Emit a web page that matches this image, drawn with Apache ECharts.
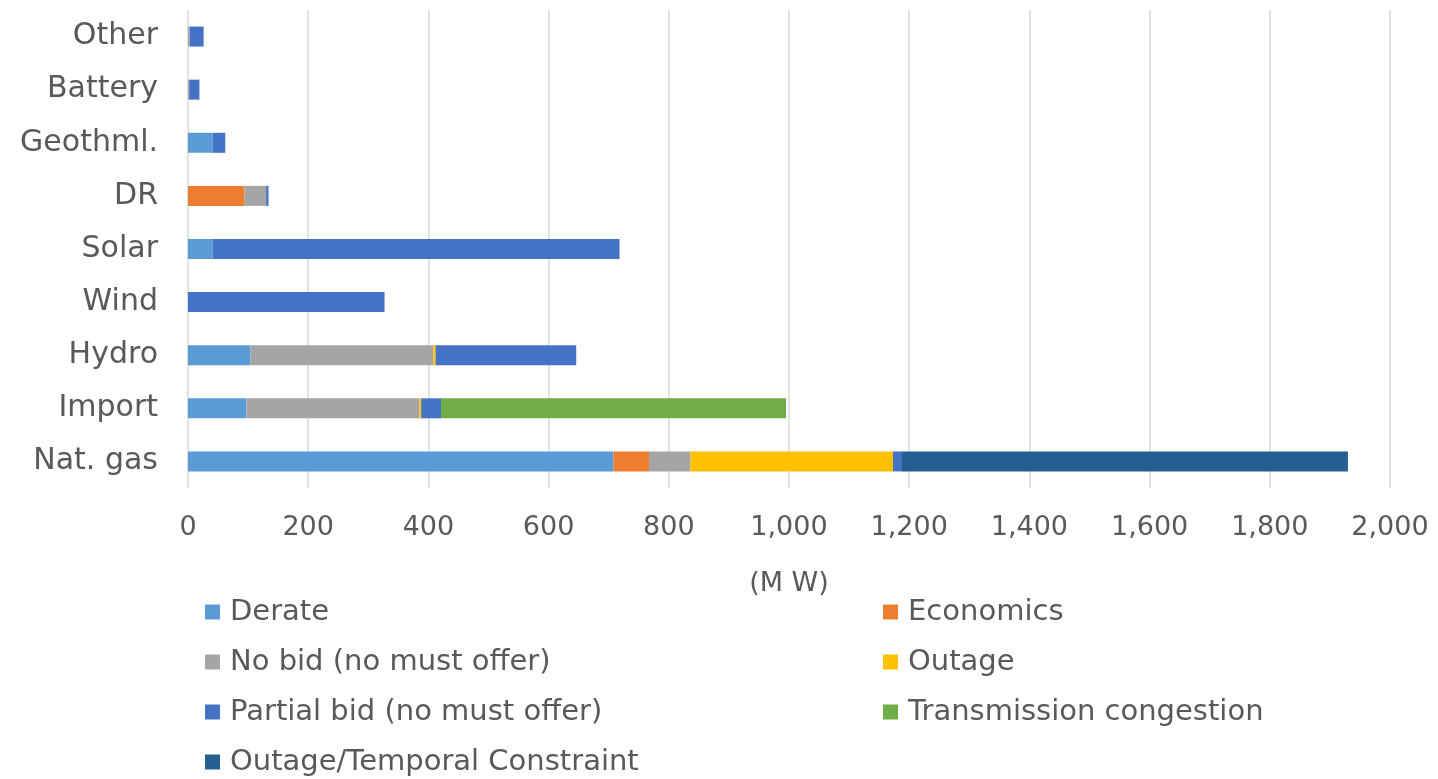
<!DOCTYPE html>
<html>
<head>
<meta charset="utf-8">
<script src="https://cdn.jsdelivr.net/npm/echarts@6/dist/echarts.min.js"></script>
<style>
  html, body { margin: 0; padding: 0; background: #fff; }
  #chart { width: 1438px; height: 779px; }
</style>
</head>
<body>
<div id="chart"></div>
<script>
// categories, bottom to top
const categories = ["Nat. gas", "Import", "Hydro", "Wind", "Solar", "DR", "Geothml.", "Battery", "Other"];
const xTicks = [0, 200, 400, 600, 800, 1000, 1200, 1400, 1600, 1800, 2000];

// MW per reason
const derate       = [708, 97, 104, 0, 41, 0, 41, 0, 0];
const economics    = [59, 0, 0, 0, 0, 94, 0, 0, 0];
const noBid        = [69, 288, 304, 0, 0, 36, 0, 2, 3];
const outage       = [337, 3, 4, 0, 0, 0, 0, 0, 0];
const partialBid   = [15, 33, 234, 327, 677, 4, 21, 17, 23];
const transmission = [0, 574, 0, 0, 0, 0, 0, 0, 0];
const outageTemporal = [742, 0, 0, 0, 0, 0, 0, 0, 0];

const seriesDefs = [
  { name: "Derate", data: derate, color: "#5B9BD5" },
  { name: "Economics", data: economics, color: "#ED7D31" },
  { name: "No bid (no must offer)", data: noBid, color: "#A5A5A5" },
  { name: "Outage", data: outage, color: "#FFC000" },
  { name: "Partial bid (no must offer)", data: partialBid, color: "#4472C4" },
  { name: "Transmission congestion", data: transmission, color: "#70AD47" },
  { name: "Outage/Temporal Constraint", data: outageTemporal, color: "#255E91" }
];

const font = "DejaVu Sans";
const textColor = "#595959";

const chart = echarts.init(document.getElementById("chart"));

const legendStyle = {
  orient: "vertical",
  icon: "rect",
  padding: 0,
  itemWidth: 15,
  itemHeight: 15,
  itemGap: 20,
  textStyle: { fontFamily: font, fontSize: 29, lineHeight: 30, color: textColor, padding: [0, 0, 0, 5] }
};

const option = {
  animation: false,
  grid: { left: 188, right: 48, top: 10, bottom: 291 },
  legend: [
    Object.assign({}, legendStyle, {
      left: 205, top: 597, height: 182,
      data: ["Derate", "No bid (no must offer)", "Partial bid (no must offer)", "Outage/Temporal Constraint"]
    }),
    Object.assign({}, legendStyle, {
      left: 883, top: 597,
      data: ["Economics", "Outage", "Transmission congestion"]
    })
  ],
  xAxis: {
    type: "value",
    min: xTicks[0],
    max: xTicks[xTicks.length - 1],
    interval: 200,
    name: "(M W)",
    nameLocation: "middle",
    nameGap: 82,
    nameTextStyle: { fontFamily: font, fontSize: 27, color: textColor },
    axisLine: { show: false },
    axisTick: { show: false },
    axisLabel: {
      fontFamily: font, fontSize: 27, color: textColor, margin: 26,
      formatter: v => v.toLocaleString("en-US")
    },
    splitLine: { lineStyle: { color: "#D9D9D9", width: 1.5 } }
  },
  yAxis: {
    type: "category",
    data: categories,
    axisLine: { show: false },
    axisTick: { show: false },
    axisLabel: { fontFamily: font, fontSize: 30, color: textColor, margin: 30 }
  },
  series: seriesDefs.map(s => ({
    name: s.name,
    type: "bar",
    stack: "total",
    barWidth: 20,
    data: s.data,
    itemStyle: { color: s.color }
  }))
};

chart.setOption(option);
</script>
</body>
</html>
